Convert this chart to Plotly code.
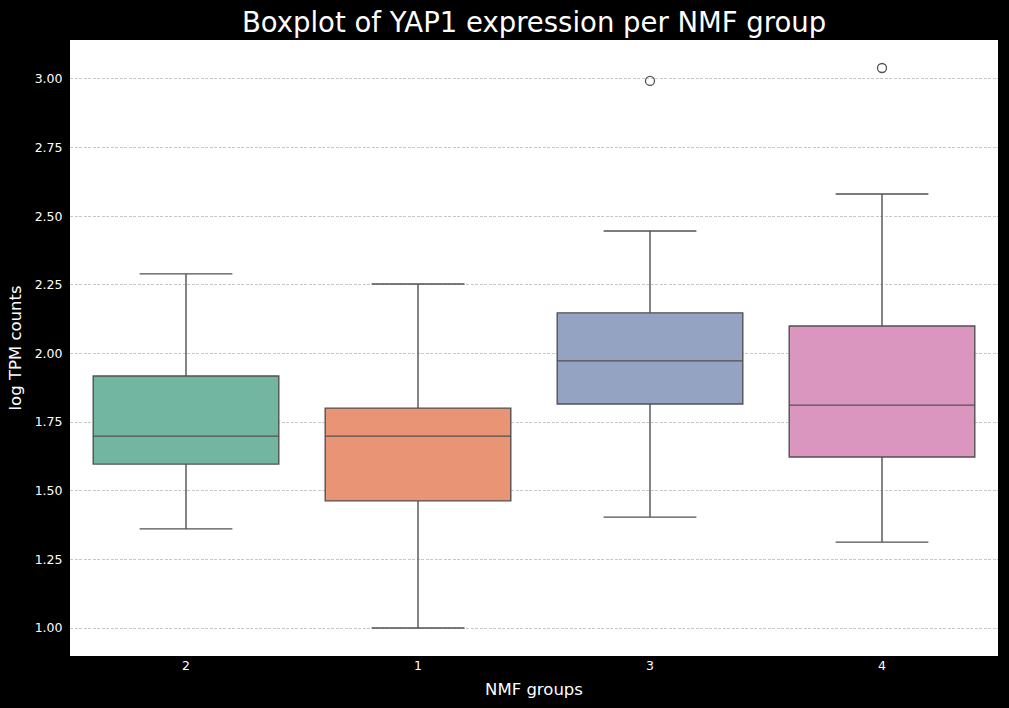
import plotly.graph_objects as go

groups = ["2", "1", "3", "4"]
q1 = [1.597, 1.463, 1.816, 1.623]
medians = [1.699, 1.699, 1.973, 1.812]
q3 = [1.918, 1.801, 2.148, 2.100]
lower_whisker = [1.361, 1.000, 1.404, 1.313]
upper_whisker = [2.290, 2.253, 2.446, 2.581]
outlier_groups = ["3", "4"]
outlier_values = [2.993, 3.040]
colors = ["#72b6a1", "#e99575", "#95a3c3", "#db96c0"]
y_ticks = [1.00, 1.25, 1.50, 1.75, 2.00, 2.25, 2.50, 2.75, 3.00]

line_col = "#525252"
fig = go.Figure()
for i, g in enumerate(groups):
    fig.add_trace(go.Box(
        x=[g], q1=[q1[i]], median=[medians[i]], q3=[q3[i]],
        lowerfence=[lower_whisker[i]], upperfence=[upper_whisker[i]],
        fillcolor=colors[i], line=dict(color=line_col, width=1.4),
        width=0.8, whiskerwidth=0.5, boxpoints=False,
        showlegend=False, hoverinfo="skip",
    ))

fig.add_trace(go.Scatter(
    x=outlier_groups, y=outlier_values, mode="markers",
    marker=dict(symbol="circle-open", size=9, color=line_col, line=dict(width=1.3, color=line_col)),
    showlegend=False, hoverinfo="skip",
))

font_family = "DejaVu Sans"
fig.update_layout(
    width=1009, height=708,
    paper_bgcolor="black", plot_bgcolor="white",
    boxmode="overlay",
    margin=dict(l=70, r=11, t=40, b=52),
    font=dict(family=font_family, color="white", size=12.5),
    title=dict(text="Boxplot of YAP1 expression per NMF group", x=0.5293, xanchor="center",
               y=0.968, yanchor="middle", font=dict(size=27.5, color="white", family=font_family)),
    xaxis=dict(type="category", categoryorder="array", categoryarray=groups,
               range=[-0.5, 3.5], showgrid=False, zeroline=False, automargin=False,
               ticks="", tickfont=dict(size=12.5, color="white"),
               title=dict(text="NMF groups", font=dict(size=16.5, color="white"), standoff=11)),
    yaxis=dict(range=[0.898, 3.142], tickvals=y_ticks, ticktext=[f"{v:.2f}" for v in y_ticks],
               showgrid=True, gridcolor="#c8c8c8", griddash="3px,1.5px", gridwidth=0.6,
               zeroline=False, automargin=False, ticks="outside", ticklen=4, tickcolor="black",
               tickfont=dict(size=12.5, color="white"),
               title=dict(text="log TPM counts", font=dict(size=16.5, color="white"), standoff=8)),
)

fig.write_html("out.html", config={"displayModeBar": False},
               post_script="document.body.style.margin='0';document.body.style.background='black';")
